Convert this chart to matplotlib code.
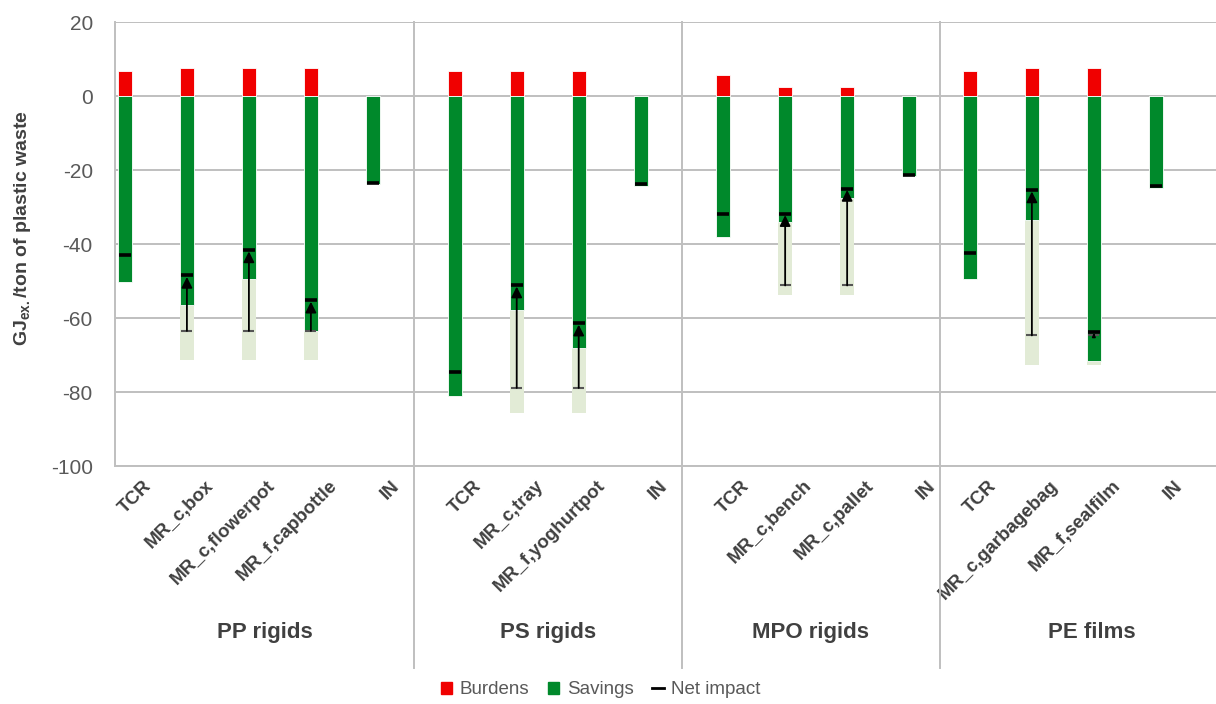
import numpy as np
import matplotlib
matplotlib.use('Agg')
import matplotlib.pyplot as plt
import matplotlib.transforms as mtransforms
from matplotlib.patches import Patch
from matplotlib.lines import Line2D

plt.rcParams['font.family'] = ['Liberation Sans', 'DejaVu Sans']
plt.rcParams['axes.unicode_minus'] = False

groups = ['PP rigids', 'PS rigids', 'MPO rigids', 'PE films']
categories = [
    ['TCR', 'MR_c,box', 'MR_c,flowerpot', 'MR_f,capbottle', 'IN'],
    ['TCR', 'MR_c,tray', 'MR_f,yoghurtpot', 'IN'],
    ['TCR', 'MR_c,bench', 'MR_c,pallet', 'IN'],
    ['TCR', 'MR_c,garbagebag', 'MR_f,sealfilm', 'IN'],
]
nan = np.nan
burdens = [6.8, 7.7, 7.7, 7.7, 0,
           6.8, 6.8, 6.8, 0,
           5.7, 2.4, 2.4, 0,
           6.8, 7.7, 7.7, 0]
savings = [-50.2, -56.6, -49.4, -63.5, -23.9,
           -81.2, -57.9, -68.1, -24.4,
           -38.0, -34.1, -27.7, -21.6,
           -49.4, -33.5, -71.7, -24.9]
# extra savings (light bars) reach down to this value
savings_max = [nan, -71.4, -71.4, -71.4, nan,
               nan, -85.6, -85.6, nan,
               nan, -53.8, -53.8, nan,
               nan, -72.7, -72.7, nan]
net = [-43.1, -48.5, -41.6, -55.2, -23.4,
       -74.6, -51.1, -61.4, -23.7,
       -31.8, -31.8, -25.0, -21.3,
       -42.4, -25.4, -63.7, -24.4]
net_low = [nan, -63.5, -63.5, -63.5, nan,
           nan, -78.9, -78.9, nan,
           nan, -51.2, -51.2, nan,
           nan, -64.7, -64.7, nan]

# layout
group_extra = [0, 0.32, 0.33, -0.02]
x = []
pos = 0.0
for g, cats in enumerate(categories):
    pos += group_extra[g]
    for c in cats:
        x.append(pos)
        pos += 1
x = np.array(x)
labels = [c for cats in categories for c in cats]

red = '#F00000'
green = '#00892B'
light = '#E2EBD6'
grey_txt = '#595959'
grid_c = '#BFBFBF'
w = 0.226

fig = plt.figure(figsize=(12.16, 7.04), dpi=100)
ax = fig.add_axes([115/1216, 1-466/704, 1-115/1216, 444/704])

ax.bar(x, burdens, w, color=red, edgecolor='white', linewidth=0.6, zorder=3)
ax.bar(x, savings, w, color=green, edgecolor='white', linewidth=0.6, zorder=3)
sm = np.array(savings_max)
ax.bar(x, sm - np.array(savings), w, bottom=savings, color=light,
       edgecolor='none', zorder=2)

ax.hlines(net, x - 0.1, x + 0.1, colors='black', linewidth=2.6, zorder=5)
for xi, lo, hi in zip(x, net_low, net):
    if np.isnan(lo):
        continue
    ax.hlines(lo, xi - 0.09, xi + 0.09, colors='#555555', linewidth=1.5, zorder=4)
    size = min(16, 4 * (hi - lo))
    ax.annotate('', xy=(xi, hi - 0.4), xytext=(xi, lo),
                arrowprops=dict(arrowstyle='-|>', color='black', lw=1.3,
                                mutation_scale=size, shrinkA=0, shrinkB=0),
                zorder=6)

ax.set_ylim(-100, 20)
ax.set_xlim(-0.16, 17.6)
ax.set_yticks(np.arange(-100, 21, 20))
ax.yaxis.grid(True, color=grid_c, linewidth=1.4, zorder=0)
ax.set_axisbelow(True)
for s in ['top', 'right']:
    ax.spines[s].set_visible(False)
for s in ['left', 'bottom']:
    ax.spines[s].set_color(grid_c)
    ax.spines[s].set_linewidth(1.4)
ax.tick_params(axis='y', length=0, pad=16, labelsize=15, labelcolor=grey_txt)
ax.tick_params(axis='x', length=0, pad=8)
ax.set_xticks(x)
ax.set_xticklabels(labels, rotation=45, ha='right', rotation_mode='anchor',
                   fontsize=13.5, fontweight='bold', color='#404040')
offset = mtransforms.ScaledTranslation(0.18, 0, fig.dpi_scale_trans)
for lab in ax.get_xticklabels():
    lab.set_transform(lab.get_transform() + offset)

ax.set_ylabel('GJ$_{\\mathregular{ex.}}$/ton of plastic waste', fontsize=14,
              fontweight='bold', color='#404040')
ax.yaxis.set_label_coords(-0.0745, 0.536)

# group separators and group labels
trans = mtransforms.blended_transform_factory(ax.transData, ax.transAxes)
bounds = [-0.16]
start = 0
for cats in categories[:-1]:
    end = start + len(cats)
    bounds.append((x[end - 1] + x[end]) / 2)
    start = end
bounds.append(18.05)
for b in bounds[1:-1]:
    ax.plot([b, b], [1, -0.455], color=grid_c, linewidth=1.4,
            transform=trans, clip_on=False)
for g, name in enumerate(groups):
    ax.text((bounds[g] + bounds[g + 1]) / 2, -0.376, name, transform=trans,
            ha='center', va='center', fontsize=16, fontweight='bold',
            color='#404040', clip_on=False)

handles = [Patch(color=red), Patch(color=green),
           Line2D([0], [0], color='black', linewidth=2)]
fig.legend(handles, ['Burdens', 'Savings', 'Net impact'], loc='center',
           bbox_to_anchor=(0.494, 0.02), ncol=3, frameon=False, fontsize=13.5,
           handlelength=0.6, handleheight=0.6, handletextpad=0.4,
           columnspacing=1.0, labelcolor=grey_txt)

fig.savefig('out.png', dpi=100)
